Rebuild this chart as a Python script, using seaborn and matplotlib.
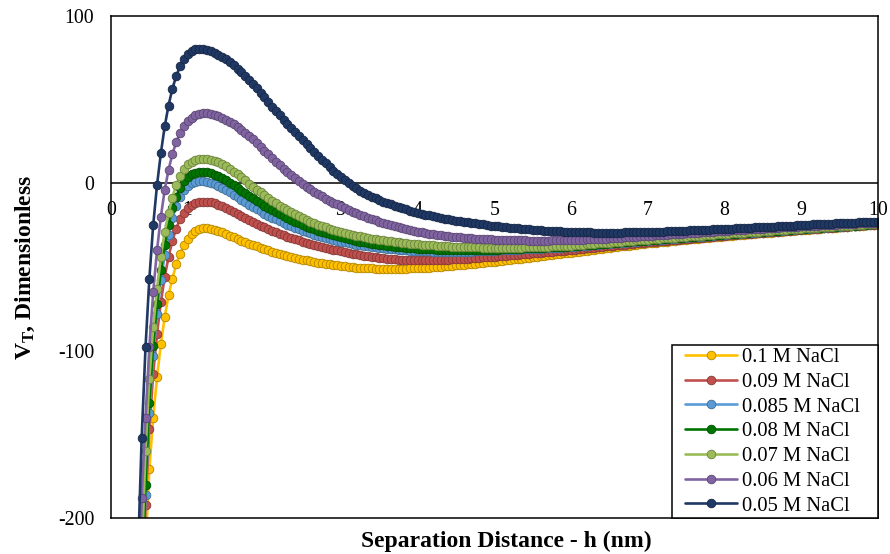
import numpy as np
import pandas as pd
import matplotlib
matplotlib.use("Agg")
import matplotlib.pyplot as plt
from matplotlib.lines import Line2D
from matplotlib.legend_handler import HandlerLine2D
from matplotlib.colors import to_rgb
import seaborn as sns

# Separation distance grid (nm): 0.35 ... 10.00 in 0.05 nm steps
h_start = 0.35
h_step = 0.05

# Total interaction energy V_T (dimensionless) for each NaCl concentration.
# Each line of numbers covers one nm (first line: 0.35-0.95, last value: 10.0).
v_005 = [
    -225, -152, -98, -57, -25, -1, 18, 34, 46.5, 56.5, 64, 70, 74.5,
    77.5, 79.2, 80.0, 80.2, 80.0, 79.6, 78.9, 78.0, 76.9, 75.6, 74.1, 72.4, 70.6, 68.6, 66.5, 64.2, 61.8, 59.3, 56.7, 54.0,
    51.3, 48.6, 45.9, 43.3, 40.7, 38.1, 35.5, 33.0, 30.5, 28.0, 25.6, 23.3, 21.0, 18.7, 16.4, 14.1, 11.9, 9.7, 7.6, 5.6,
    3.7, 1.9, 0.2, -1.4, -2.9, -4.3, -5.6, -6.8, -7.9, -9.0, -10.0, -10.9, -11.8, -12.6, -13.4, -14.2, -14.9, -15.6, -16.3, -16.9,
    -17.5, -18.1, -18.7, -19.2, -19.7, -20.2, -20.7, -21.1, -21.5, -21.9, -22.3, -22.7, -23.1, -23.4, -23.7, -24.0, -24.3, -24.6, -24.9, -25.2,
    -25.5, -25.7, -26.0, -26.2, -26.5, -26.7, -26.9, -27.1, -27.3, -27.5, -27.7, -27.9, -28.0, -28.2, -28.3, -28.5, -28.6, -28.7, -28.8, -28.9,
    -29.0, -29.1, -29.2, -29.2, -29.3, -29.3, -29.4, -29.4, -29.4, -29.4, -29.4, -29.4, -29.4, -29.4, -29.3, -29.3, -29.3, -29.2, -29.2, -29.1,
    -29.1, -29.0, -28.9, -28.9, -28.8, -28.7, -28.6, -28.5, -28.4, -28.3, -28.2, -28.1, -28.0, -27.9, -27.8, -27.7, -27.6, -27.5, -27.4, -27.3,
    -27.2, -27.1, -27.0, -26.9, -26.8, -26.7, -26.6, -26.4, -26.3, -26.2, -26.1, -26.0, -25.9, -25.8, -25.6, -25.5, -25.4, -25.3, -25.2, -25.1,
    -25.0, -24.9, -24.8, -24.6, -24.5, -24.4, -24.3, -24.2, -24.1, -24.0, -23.9, -23.8, -23.7, -23.6, -23.5, -23.4, -23.3, -23.2, -23.1, -23.0,
    -22.9,
]

v_006 = [
    -275, -188, -140, -98, -65, -40, -20, -4, 8, 17.5, 24.5, 30, 34,
    37.0, 39.2, 40.7, 41.6, 42.0, 42.0, 41.6, 41.0, 40.2, 39.2, 38.0, 36.7, 35.2, 33.6, 31.9, 30.1, 28.2, 26.2, 24.1, 21.9,
    19.6, 17.3, 15.0, 12.8, 10.7, 8.6, 6.6, 4.7, 2.9, 1.2, -0.5, -2.1, -3.6, -5.1, -6.5, -7.8, -9.1, -10.3, -11.5, -12.6,
    -13.7, -14.8, -15.9, -16.9, -17.9, -18.8, -19.7, -20.6, -21.4, -22.2, -23.0, -23.7, -24.4, -25.1, -25.7, -26.3, -26.9, -27.4, -27.9, -28.4,
    -28.8, -29.2, -29.6, -30.0, -30.3, -30.6, -30.9, -31.2, -31.5, -31.8, -32.0, -32.2, -32.4, -32.6, -32.8, -33.0, -33.2, -33.3, -33.4, -33.5,
    -33.6, -33.7, -33.8, -33.9, -34.0, -34.0, -34.1, -34.1, -34.1, -34.2, -34.2, -34.2, -34.2, -34.2, -34.2, -34.1, -34.1, -34.0, -34.0, -33.9,
    -33.9, -33.8, -33.7, -33.6, -33.5, -33.4, -33.3, -33.2, -33.1, -33.0, -32.8, -32.7, -32.6, -32.4, -32.3, -32.2, -32.0, -31.9, -31.7, -31.6,
    -31.4, -31.3, -31.1, -31.0, -30.8, -30.7, -30.5, -30.4, -30.2, -30.0, -29.9, -29.7, -29.6, -29.4, -29.3, -29.1, -29.0, -28.8, -28.7, -28.5,
    -28.4, -28.2, -28.1, -27.9, -27.8, -27.6, -27.5, -27.4, -27.2, -27.1, -27.0, -26.8, -26.7, -26.6, -26.4, -26.3, -26.2, -26.1, -25.9, -25.8,
    -25.7, -25.6, -25.5, -25.3, -25.2, -25.1, -25.0, -24.9, -24.8, -24.7, -24.6, -24.5, -24.3, -24.2, -24.1, -24.0, -23.9, -23.8, -23.7, -23.6,
    -23.5,
]

v_007 = [
    -320, -222, -160, -117, -86, -63, -44, -29, -18, -8.5, -1, 4.5, 8.5,
    11.3, 13.0, 14.1, 14.6, 14.8, 14.6, 14.1, 13.4, 12.5, 11.4, 10.1, 8.6, 7.0, 5.3, 3.5, 1.7, -0.1, -1.9, -3.7, -5.4,
    -7.1, -8.8, -10.4, -11.9, -13.4, -14.8, -16.1, -17.4, -18.6, -19.8, -20.9, -21.9, -22.9, -23.8, -24.7, -25.5, -26.3, -27.0, -27.7, -28.4,
    -29.0, -29.6, -30.2, -30.7, -31.2, -31.7, -32.2, -32.6, -33.0, -33.4, -33.8, -34.1, -34.4, -34.7, -35.0, -35.3, -35.6, -35.8, -36.0, -36.2,
    -36.4, -36.6, -36.8, -37.0, -37.1, -37.3, -37.4, -37.5, -37.7, -37.8, -37.9, -38.0, -38.1, -38.1, -38.2, -38.3, -38.3, -38.4, -38.4, -38.4,
    -38.5, -38.5, -38.5, -38.5, -38.5, -38.4, -38.4, -38.4, -38.3, -38.3, -38.2, -38.1, -38.0, -37.9, -37.8, -37.7, -37.6, -37.5, -37.4, -37.3,
    -37.2, -37.0, -36.8, -36.7, -36.5, -36.3, -36.1, -35.9, -35.8, -35.6, -35.4, -35.2, -35.0, -34.9, -34.7, -34.5, -34.3, -34.1, -34.0, -33.8,
    -33.6, -33.4, -33.3, -33.1, -32.9, -32.8, -32.6, -32.4, -32.2, -32.1, -31.9, -31.7, -31.6, -31.4, -31.2, -31.1, -30.9, -30.7, -30.5, -30.4,
    -30.2, -30.0, -29.9, -29.7, -29.6, -29.4, -29.2, -29.1, -28.9, -28.8, -28.6, -28.4, -28.3, -28.1, -28.0, -27.8, -27.6, -27.5, -27.3, -27.2,
    -27.0, -26.9, -26.7, -26.6, -26.4, -26.3, -26.2, -26.0, -25.9, -25.7, -25.6, -25.5, -25.3, -25.2, -25.0, -24.9, -24.8, -24.6, -24.5, -24.3,
    -24.2,
]

v_008 = [
    -350, -248, -180, -131, -97, -72, -52, -37, -25, -15, -8, -2.5, 1.3,
    3.9, 5.5, 6.4, 6.8, 6.9, 6.6, 6.0, 5.2, 4.2, 3.0, 1.7, 0.3, -1.2, -2.7, -4.3, -5.9, -7.5, -9.0, -10.5, -12.0,
    -13.4, -14.8, -16.1, -17.4, -18.6, -19.8, -20.9, -22.0, -23.0, -24.0, -24.9, -25.8, -26.7, -27.5, -28.3, -29.0, -29.7, -30.4, -31.0, -31.6,
    -32.2, -32.8, -33.3, -33.8, -34.3, -34.8, -35.2, -35.6, -36.0, -36.4, -36.7, -37.0, -37.3, -37.6, -37.9, -38.1, -38.3, -38.5, -38.7, -38.9,
    -39.1, -39.2, -39.3, -39.4, -39.5, -39.6, -39.7, -39.8, -39.9, -39.9, -40.0, -40.0, -40.0, -40.0, -40.0, -40.0, -40.0, -39.9, -39.9, -39.8,
    -39.7, -39.6, -39.5, -39.4, -39.3, -39.2, -39.1, -39.0, -38.9, -38.8, -38.7, -38.6, -38.5, -38.4, -38.3, -38.2, -38.1, -38.0, -37.9, -37.8,
    -37.7, -37.5, -37.3, -37.1, -36.9, -36.8, -36.6, -36.4, -36.2, -36.0, -35.8, -35.6, -35.4, -35.2, -35.1, -34.9, -34.7, -34.5, -34.3, -34.2,
    -34.0, -33.8, -33.6, -33.5, -33.3, -33.1, -32.9, -32.8, -32.6, -32.4, -32.3, -32.1, -31.9, -31.7, -31.6, -31.4, -31.2, -31.0, -30.9, -30.7,
    -30.5, -30.3, -30.2, -30.0, -29.8, -29.7, -29.5, -29.3, -29.2, -29.0, -28.9, -28.7, -28.5, -28.4, -28.2, -28.0, -27.9, -27.7, -27.5, -27.4,
    -27.2, -27.1, -26.9, -26.8, -26.6, -26.5, -26.3, -26.2, -26.0, -25.9, -25.7, -25.6, -25.4, -25.3, -25.2, -25.0, -24.9, -24.7, -24.6, -24.4,
    -24.3,
]

v_0085 = [
    -355, -255, -186, -137, -103, -78, -58, -43, -31, -21, -13.5, -8, -4,
    -1.5, 0.0, 0.8, 1.2, 1.3, 1.0, 0.4, -0.4, -1.4, -2.6, -3.9, -5.3, -6.8, -8.3, -9.8, -11.3, -12.7, -14.1, -15.5, -16.8,
    -18.1, -19.3, -20.5, -21.6, -22.7, -23.7, -24.7, -25.7, -26.6, -27.5, -28.3, -29.1, -29.9, -30.6, -31.3, -32.0, -32.6, -33.2, -33.8, -34.3,
    -34.8, -35.3, -35.8, -36.2, -36.6, -37.0, -37.4, -37.7, -38.0, -38.3, -38.6, -38.9, -39.1, -39.3, -39.5, -39.7, -39.9, -40.1, -40.2, -40.3,
    -40.4, -40.5, -40.6, -40.7, -40.8, -40.8, -40.9, -40.9, -40.9, -40.9, -40.9, -40.9, -40.9, -40.8, -40.8, -40.7, -40.6, -40.5, -40.4, -40.3,
    -40.2, -40.1, -40.0, -39.9, -39.8, -39.7, -39.6, -39.5, -39.4, -39.3, -39.2, -39.1, -39.0, -38.9, -38.8, -38.7, -38.6, -38.5, -38.3, -38.2,
    -38.0, -37.8, -37.6, -37.4, -37.2, -37.1, -36.9, -36.7, -36.5, -36.3, -36.1, -35.9, -35.7, -35.5, -35.4, -35.2, -35.0, -34.8, -34.6, -34.5,
    -34.3, -34.1, -33.9, -33.7, -33.6, -33.4, -33.2, -33.0, -32.8, -32.7, -32.5, -32.3, -32.1, -31.9, -31.8, -31.6, -31.4, -31.2, -31.0, -30.9,
    -30.7, -30.5, -30.4, -30.2, -30.0, -29.9, -29.7, -29.5, -29.4, -29.2, -29.0, -28.9, -28.7, -28.5, -28.3, -28.2, -28.0, -27.8, -27.7, -27.5,
    -27.3, -27.2, -27.0, -26.9, -26.7, -26.6, -26.4, -26.3, -26.1, -26.0, -25.8, -25.7, -25.5, -25.4, -25.2, -25.1, -24.9, -24.8, -24.6, -24.5,
    -24.4,
]

v_009 = [
    -370, -265, -192, -147, -114, -90, -71, -56, -44, -34.5, -27, -21.5, -17.5,
    -14.7, -12.8, -11.7, -11.1, -10.9, -11.0, -11.4, -12.0, -12.8, -13.7, -14.7, -15.8, -17.0, -18.2, -19.4, -20.6, -21.8, -23.0, -24.1, -25.2,
    -26.3, -27.3, -28.3, -29.2, -30.1, -31.0, -31.8, -32.6, -33.4, -34.1, -34.8, -35.5, -36.1, -36.7, -37.3, -37.9, -38.5, -39.0, -39.6, -40.1,
    -40.6, -41.1, -41.6, -42.1, -42.5, -42.9, -43.3, -43.7, -44.0, -44.3, -44.6, -44.9, -45.1, -45.3, -45.5, -45.6, -45.7, -45.8, -45.9, -46.0,
    -46.0, -46.0, -46.0, -46.0, -45.9, -45.9, -45.8, -45.7, -45.6, -45.5, -45.4, -45.3, -45.1, -45.0, -44.8, -44.7, -44.5, -44.3, -44.2, -44.0,
    -43.8, -43.6, -43.4, -43.2, -43.0, -42.8, -42.6, -42.4, -42.2, -42.0, -41.8, -41.6, -41.4, -41.2, -41.0, -40.8, -40.6, -40.4, -40.2, -40.0,
    -39.8, -39.6, -39.3, -39.1, -38.9, -38.7, -38.4, -38.2, -38.0, -37.7, -37.5, -37.3, -37.0, -36.8, -36.6, -36.4, -36.1, -35.9, -35.7, -35.4,
    -35.2, -35.0, -34.8, -34.6, -34.4, -34.2, -34.0, -33.8, -33.6, -33.4, -33.2, -33.0, -32.8, -32.6, -32.4, -32.2, -32.0, -31.8, -31.6, -31.4,
    -31.2, -31.0, -30.9, -30.7, -30.5, -30.3, -30.2, -30.0, -29.8, -29.6, -29.5, -29.3, -29.1, -28.9, -28.8, -28.6, -28.4, -28.2, -28.1, -27.9,
    -27.7, -27.5, -27.4, -27.2, -27.1, -26.9, -26.7, -26.6, -26.4, -26.3, -26.1, -25.9, -25.8, -25.6, -25.5, -25.3, -25.1, -25.0, -24.8, -24.7,
    -24.5,
]

v_010 = [
    -390, -290, -218, -171, -140, -116, -96, -80, -67, -57, -48.5, -42, -37,
    -33.2, -30.5, -28.7, -27.5, -26.8, -26.6, -27.0, -27.6, -28.4, -29.3, -30.3, -31.3, -32.3, -33.3, -34.2, -35.1, -36.0, -36.8, -37.6, -38.4,
    -39.3, -40.1, -40.8, -41.5, -42.2, -42.8, -43.4, -44.0, -44.6, -45.1, -45.6, -46.1, -46.6, -47.0, -47.4, -47.8, -48.2, -48.5, -48.8, -49.1,
    -49.4, -49.7, -49.9, -50.1, -50.3, -50.5, -50.6, -50.7, -50.8, -50.9, -51.0, -51.0, -51.0, -51.0, -51.0, -51.0, -50.9, -50.9, -50.8, -50.7,
    -50.6, -50.5, -50.4, -50.3, -50.1, -50.0, -49.8, -49.6, -49.4, -49.2, -49.0, -48.8, -48.6, -48.4, -48.2, -48.0, -47.7, -47.5, -47.3, -47.0,
    -46.8, -46.5, -46.3, -46.0, -45.8, -45.5, -45.2, -45.0, -44.7, -44.4, -44.1, -43.9, -43.6, -43.3, -43.0, -42.8, -42.5, -42.2, -41.9, -41.7,
    -41.4, -41.1, -40.8, -40.5, -40.3, -40.0, -39.7, -39.4, -39.1, -38.9, -38.6, -38.3, -38.0, -37.7, -37.4, -37.2, -36.9, -36.6, -36.3, -36.1,
    -35.8, -35.6, -35.4, -35.2, -35.0, -34.8, -34.5, -34.3, -34.1, -33.9, -33.7, -33.5, -33.3, -33.1, -32.9, -32.7, -32.4, -32.2, -32.0, -31.8,
    -31.6, -31.4, -31.2, -31.0, -30.9, -30.7, -30.5, -30.3, -30.1, -29.9, -29.8, -29.6, -29.4, -29.2, -29.0, -28.8, -28.6, -28.5, -28.3, -28.1,
    -27.9, -27.7, -27.6, -27.4, -27.2, -27.1, -26.9, -26.7, -26.6, -26.4, -26.2, -26.1, -25.9, -25.7, -25.6, -25.4, -25.2, -25.1, -24.9, -24.8,
    -24.6,
]

# Legend / drawing order: highest concentration first, 0.05 M drawn on top
labels = ["0.1 M NaCl", "0.09 M NaCl", "0.085 M NaCl", "0.08 M NaCl",
          "0.07 M NaCl", "0.06 M NaCl", "0.05 M NaCl"]
series = [v_010, v_009, v_0085, v_008, v_007, v_006, v_005]
colors = ["#FFC000", "#C0504D", "#5B9BD5", "#007400", "#9BBB59", "#8064A2", "#1F3864"]

x_ticks = list(range(0, 11))
y_ticks = [-200, -100, 0, 100]

n = len(v_005)
for vals in series:
    assert len(vals) == n, len(vals)
h = np.round(h_start + h_step * np.arange(n), 2)

df = pd.concat(
    [pd.DataFrame({"h": h, "V": vals, "conc": lab}) for lab, vals in zip(labels, series)],
    ignore_index=True,
)


def darker(c, f=0.7):
    return tuple(f * v for v in to_rgb(c))


MS = 6.2    # marker size (pt)
LW = 1.9    # line width (pt)
MEW = 0.6

sns.set_style("white")
plt.rcParams["font.family"] = ["Liberation Serif", "DejaVu Serif"]
plt.rcParams["axes.unicode_minus"] = False
plt.rcParams["mathtext.fontset"] = "custom"
plt.rcParams["mathtext.rm"] = "Liberation Serif:bold"
plt.rcParams["mathtext.bf"] = "Liberation Serif:bold"
plt.rcParams["mathtext.it"] = "Liberation Serif:bold:italic"
for key in ("text.color", "axes.labelcolor", "xtick.color", "ytick.color", "axes.edgecolor"):
    plt.rcParams[key] = "black"

fig = plt.figure(figsize=(8.9, 5.54), dpi=100)
ax = fig.add_axes([111 / 890, 36 / 554, 767 / 890, 502 / 554])

# horizontal axis line through V_T = 0
ax.axhline(0, color="black", lw=1.1, zorder=1.5)
n_before = len(ax.lines)

sns.lineplot(
    data=df, x="h", y="V", hue="conc", hue_order=labels,
    palette=dict(zip(labels, colors)), marker="o", markersize=MS,
    linewidth=LW, estimator=None, sort=False, legend=False, ax=ax, zorder=2,
)
for ln, c in zip(ax.lines[n_before:], colors):
    ln.set_markerfacecolor(c)
    ln.set_markeredgecolor(darker(c))
    ln.set_markeredgewidth(MEW)

ax.set_xlim(0, 10)
ax.set_ylim(-200, 100)
ax.set_yticks(y_ticks)
ax.tick_params(axis="y", length=0, pad=12, labelsize=14.3)
ax.tick_params(axis="x", bottom=False, labelbottom=False)
for s in ax.spines.values():
    s.set_visible(True)
    s.set_color("black")
    s.set_linewidth(1.1)

# x tick labels hang below the V_T = 0 line
y0, y1 = ax.get_ylim()
sec = ax.secondary_xaxis((0 - y0) / (y1 - y0))
sec.set_alignment("bottom")
sec.set_xticks(x_ticks)
sec.tick_params(axis="x", length=0, pad=13, labelsize=14.3)
for s in sec.spines.values():
    s.set_visible(False)

ax.set_xlabel("Separation Distance - h (nm)", fontsize=17, fontweight="bold")
ax.xaxis.set_label_coords(0.516, -0.026)
ax.set_ylabel(r"V$_\mathrm{T}$, Dimensionless", fontsize=17, fontweight="bold")
ax.yaxis.set_label_coords(-0.0965, 0.5)

handles = [
    Line2D([], [], color=c, lw=LW, marker="o", markersize=MS,
           markerfacecolor=c, markeredgecolor=darker(c), markeredgewidth=MEW)
    for c in colors
]
leg = ax.legend(
    handles, labels, loc="lower right",
    bbox_to_anchor=((672 - 111) / 767, 0, (878 - 672) / 767, 1), mode="expand",
    borderaxespad=0, fontsize=14.8, handlelength=3.06, handletextpad=0.23,
    labelspacing=0.26, borderpad=0.12, frameon=True, fancybox=False,
    framealpha=1, edgecolor="black",
    handler_map={Line2D: HandlerLine2D(xpad=0.49)},
)
leg.get_frame().set_linewidth(1.1)

fig.savefig("out.png", dpi=100, facecolor="white")
